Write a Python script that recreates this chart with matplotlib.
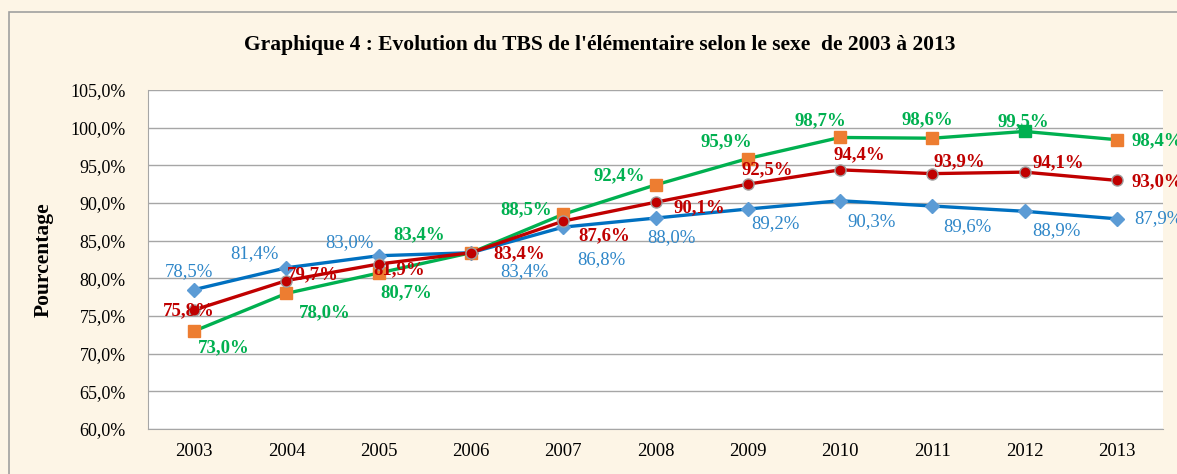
import matplotlib.pyplot as plt
from matplotlib.patches import Rectangle
from matplotlib.ticker import FuncFormatter

years = ["2003", "2004", "2005", "2006", "2007", "2008", "2009", "2010", "2011", "2012", "2013"]
filles = [73.0, 78.0, 80.7, 83.4, 88.5, 92.4, 95.9, 98.7, 98.6, 99.5, 98.4]
ensemble = [75.8, 79.7, 81.9, 83.4, 87.6, 90.1, 92.5, 94.4, 93.9, 94.1, 93.0]
garcons = [78.5, 81.4, 83.0, 83.4, 86.8, 88.0, 89.2, 90.3, 89.6, 88.9, 87.9]

# décalages des étiquettes (pixels)
off_green = [(30, -17), (38, -19), (28, -20), (-52, 18), (-37, 5), (-36, 9), (-21, 17), (-20, 17), (-5, 18), (-1, 10), (40, -1)]
off_red = [(-5, -1), (26, 6), (21, -6), (48, -1), (41, -15), (44, -5), (19, 14), (19, 15), (27, 12), (34, 9), (40, -1)]
off_blue = [(-5, 18), (-32, 14), (-29, 13), (53, -19), (38, -32), (16, -20), (28, -15), (32, -21), (35, -21), (32, -19), (42, 0)]

plt.rcParams['font.family'] = ['Liberation Serif', 'DejaVu Serif']

fig = plt.figure(figsize=(11.77, 4.74), dpi=100)
fig.patch.set_facecolor("#FDF5E6")
fig.patches.append(Rectangle((9 / 1177, -0.1), 1.2, 1 - 12 / 474 + 0.1, transform=fig.transFigure,
                             fill=False, edgecolor="#A0A0A0", linewidth=1.2))

ax = fig.add_axes([148 / 1177, 45 / 474, 1015 / 1177, 339 / 474])
ax.set_facecolor("white")
x = list(range(len(years)))

ax.plot(x, garcons, color="#0070C0", linewidth=2.4, marker="D", markersize=7,
        markerfacecolor="#5B9BD5", markeredgecolor="#5B9BD5", zorder=3)
green_faces = ["#ED7D31"] * len(years)
green_faces[9] = "#00B050"
ax.plot(x, filles, color="#00B050", linewidth=2.4, zorder=3)
for i in x:
    ax.plot(i, filles[i], marker="s", markersize=8, markerfacecolor=green_faces[i],
            markeredgecolor=green_faces[i], zorder=4)
ax.plot(x, ensemble, color="#C00000", linewidth=2.4, marker="o", markersize=8,
        markerfacecolor="#C00000", markeredgecolor="#A0A0A0", markeredgewidth=1, zorder=5)

def fmt(v):
    return f"{v:.1f}%".replace(".", ",")

for i in x:
    ax.annotate(fmt(garcons[i]), (i, garcons[i]), xytext=off_blue[i], textcoords="offset pixels",
                ha="center", va="center", fontsize=13.5, color="#2E86C8", zorder=6)
    ax.annotate(fmt(filles[i]), (i, filles[i]), xytext=off_green[i], textcoords="offset pixels",
                ha="center", va="center", fontsize=13.5, color="#00B050", fontweight="bold", zorder=6)
    ax.annotate(fmt(ensemble[i]), (i, ensemble[i]), xytext=off_red[i], textcoords="offset pixels",
                ha="center", va="center", fontsize=13.5, color="#C00000", fontweight="bold", zorder=7)

ax.set_xlim(-0.5, len(years) - 0.5)
ax.set_ylim(60, 105)
ax.set_yticks(range(60, 106, 5))
ax.yaxis.set_major_formatter(FuncFormatter(lambda v, p: fmt(v)))
ax.set_xticks(x)
ax.set_xticklabels(years)
ax.tick_params(length=0, labelsize=13.5, pad=10)
ax.tick_params(axis="y", labelsize=13, pad=16)
ax.grid(axis="y", color="#A6A6A6", linewidth=1)
ax.set_axisbelow(True)
for s in ["top", "right"]:
    ax.spines[s].set_visible(False)
for s in ["left", "bottom"]:
    ax.spines[s].set_color("#A6A6A6")
ax.set_ylabel("Pourcentage", fontsize=15.5, fontweight="bold", labelpad=12)

fig.text(600 / 1177, 1 - 45 / 474, "Graphique 4 : Evolution du TBS de l'élémentaire selon le sexe  de 2003 à 2013",
         ha="center", va="center", fontsize=15.5, fontweight="bold")

fig.savefig("out.png", dpi=100, facecolor=fig.get_facecolor())
